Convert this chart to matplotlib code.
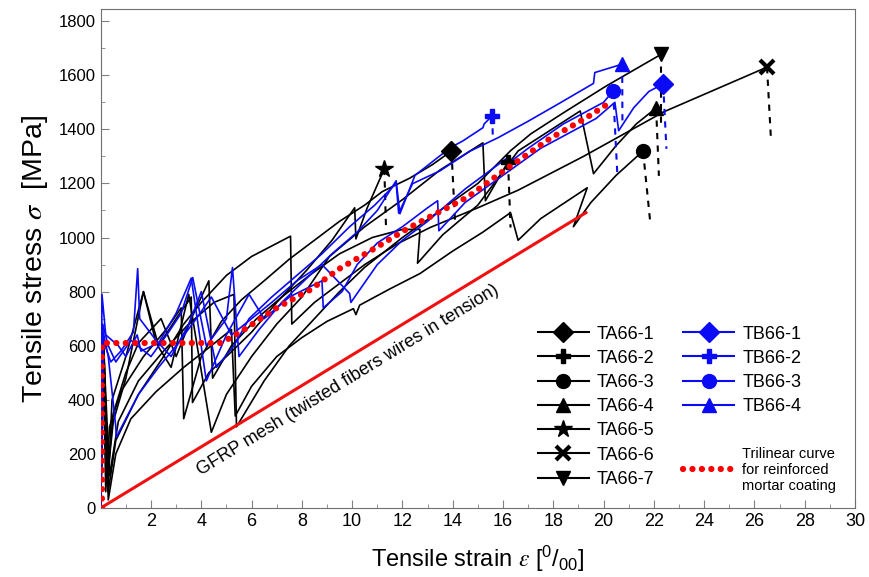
import matplotlib
matplotlib.use('Agg')
import matplotlib.pyplot as plt
from matplotlib.lines import Line2D

plt.rcParams['font.family'] = ['Liberation Sans', 'DejaVu Sans']
plt.rcParams['mathtext.fontset'] = 'stix'

# strain [per mille] / stress [MPa] records of the TA66 specimens
ta_names = ['TA66-1', 'TA66-2', 'TA66-3', 'TA66-4', 'TA66-5', 'TA66-6', 'TA66-7']
ta_markers = ['D', 'P', 'o', '^', '*', 'x', 'v']
ta_strain = [
    [0, 0.08, 0.2, 0.35, 0.8, 1.7, 2.6, 3.2, 3.3, 4.0, 4.8, 5.6, 6.5, 7.5, 8.5, 9.5, 10.5, 11.2, 12.3, 13.2, 13.95],
    [0, 0.1, 0.25, 0.5, 1.0, 1.7, 2.2, 2.8, 3.5, 4.4, 5.0, 6.0, 7.0, 8.0, 9.1, 10.5, 12.0, 13.5, 15.2, 15.3, 15.7, 16.2],
    [0, 0.12, 0.3, 0.6, 1.2, 2.2, 3.3, 4.4, 5.2, 5.35, 6.0, 7.0, 8.0, 9.0, 10.05, 10.15, 10.3, 11.5, 12.7, 14.0, 15.2, 16.3, 16.6, 17.5, 19.35, 18.8, 19.5, 20.5, 21.57],
    [0, 0.1, 0.3, 0.5, 1.0, 1.5, 2.4, 3.0, 3.6, 4.3, 4.45, 5.2, 6.2, 7.2, 8.3, 9.5, 10.8, 12.0, 12.7, 12.6, 13.6, 15.0, 16.6, 19.07, 19.6, 20.5, 21.3, 22.09],
    [0, 0.1, 0.3, 0.45, 1.0, 1.7, 2.3, 3.0, 3.6, 3.65, 4.3, 5.0, 6.0, 7.0, 8.2, 9.2, 10.1, 10.15, 10.6, 11.28],
    [0, 0.1, 0.3, 0.6, 1.5, 2.5, 3.3, 4.0, 5.0, 6.0, 7.55, 7.6, 8.5, 9.5, 10.5, 11.8, 13.1, 15.0, 16.6, 19.2, 22.4, 26.5],
    [0, 0.1, 0.35, 0.7, 1.5, 2.5, 3.5, 4.5, 5.3, 5.4, 6.5, 7.5, 8.5, 9.5, 10.5, 12.0, 13.5, 15.0, 16.3, 17.1, 18.4, 20.1, 22.3],
]
ta_stress = [
    [0, 640, 60, 300, 430, 560, 660, 740, 330, 560, 690, 770, 840, 920, 990, 1060, 1120, 1170, 1220, 1270, 1320],
    [0, 600, 100, 320, 480, 800, 610, 520, 790, 280, 420, 560, 680, 780, 930, 1040, 1140, 1250, 1350, 1136, 1200, 1280],
    [0, 620, 30, 200, 330, 430, 520, 600, 660, 340, 450, 560, 630, 690, 737, 715, 750, 810, 867, 950, 1020, 1092, 990, 1070, 1184, 1040, 1130, 1230, 1320],
    [0, 560, 150, 350, 500, 610, 700, 560, 700, 840, 480, 600, 700, 780, 860, 940, 1000, 1030, 1030, 905, 1010, 1120, 1320, 1468, 1236, 1340, 1420, 1479],
    [0, 650, 80, 400, 560, 800, 600, 700, 780, 390, 500, 560, 650, 760, 880, 990, 1110, 995, 1110, 1254],
    [0, 600, 60, 250, 420, 560, 680, 760, 860, 930, 1005, 680, 760, 830, 900, 977, 1037, 1110, 1175, 1300, 1465, 1630],
    [0, 620, 120, 320, 470, 580, 680, 760, 790, 300, 470, 600, 700, 800, 890, 1000, 1100, 1200, 1321, 1383, 1461, 1560, 1678],
]
# post-peak unloading branches (dashed)
ta_drop_strain = [[13.95, 14.1], [16.2, 16.3], [21.57, 21.85], [22.09, 22.2], [11.28, 11.35], [26.5, 26.65], [22.3, 22.3]]
ta_drop_stress = [[1320, 1045], [1280, 1037], [1320, 1062], [1479, 1228], [1254, 1025], [1630, 1376], [1678, 1420]]

# TB66 specimens
tb_names = ['TB66-1', 'TB66-2', 'TB66-3', 'TB66-4']
tb_markers = ['D', 'P', 'o', '^']
tb_strain = [
    [0, 0.05, 0.2, 0.7, 1.0, 1.45, 1.6, 2.3, 3.0, 3.6, 4.2, 5.0, 5.9, 6.5, 7.5, 8.8, 8.85, 9.6, 10.2, 11.0, 12.0, 13.0, 13.4, 13.45, 14.5, 16.3, 17.5, 19.7, 20.45, 20.6, 21.2, 21.8, 22.37],
    [0, 0.08, 0.3, 0.6, 1.2, 2.0, 2.7, 3.2, 3.66, 4.2, 5.0, 5.24, 5.5, 6.3, 7.2, 8.2, 9.2, 10.2, 11.0, 11.75, 11.9, 12.5, 13.9, 14.4, 15.2, 15.25, 15.57],
    [0, 0.1, 0.3, 0.6, 0.62, 1.5, 2.3, 3.0, 3.8, 4.4, 5.2, 6.0, 6.8, 7.8, 8.8, 9.9, 9.95, 11.0, 12.0, 13.0, 14.5, 16.1, 16.15, 17.0, 18.4, 20.0, 20.38],
    [0, 0.1, 0.4, 0.8, 1.3, 1.47, 1.55, 2.2, 2.8, 3.5, 4.0, 4.6, 5.3, 5.9, 6.8, 7.8, 8.8, 9.9, 10.9, 11.75, 11.85, 12.4, 13.5, 14.7, 15.8, 17.0, 18.2, 19.6, 19.65, 20.74],
]
tb_stress = [
    [0, 790, 640, 600, 560, 640, 580, 610, 720, 850, 470, 640, 790, 700, 780, 840, 740, 800, 900, 980, 1040, 1110, 1136, 1025, 1130, 1250, 1330, 1440, 1500, 1395, 1480, 1540, 1568],
    [0, 680, 600, 540, 620, 560, 650, 720, 852, 600, 700, 889, 560, 660, 760, 850, 940, 1020, 1100, 1210, 1088, 1230, 1332, 1357, 1406, 1420, 1450],
    [0, 650, 560, 300, 262, 420, 520, 600, 700, 780, 640, 700, 760, 840, 900, 793, 760, 900, 990, 1060, 1180, 1290, 1270, 1330, 1420, 1500, 1542],
    [0, 620, 540, 580, 650, 885, 700, 620, 560, 680, 800, 520, 600, 700, 780, 860, 940, 1040, 1120, 1200, 1090, 1199, 1247, 1320, 1369, 1430, 1494, 1570, 1610, 1641],
]
tb_drop_strain = [[22.37, 22.5], [15.57, 15.6], [20.38, 20.55], [20.74, 20.75]]
tb_drop_stress = [[1568, 1328], [1450, 1357], [1542, 1228], [1641, 1420]]

# trilinear model for the reinforced mortar coating
tri_strain = [0.05, 0.05, 4.8, 5.8, 7.0, 8.3, 9.5, 10.9, 12.2, 14.6, 16.2, 17.9, 19.3, 20.1]
tri_stress = [0, 610, 610, 665, 740, 805, 885, 960, 1033, 1150, 1258, 1368, 1442, 1490]

# bare GFRP mesh
mesh_strain = [0, 19.3]
mesh_stress = [0, 1092]

blue = '#0a0af5'
dots = (0, (0.01, 1.5))

fig = plt.figure(figsize=(8.69, 5.77), dpi=100)
ax = fig.add_axes([0.1159, 0.1196, 0.868, 0.8648])

handles = []
for i in range(len(ta_names)):
    ax.plot(ta_strain[i], ta_stress[i], color='black', lw=1.2, zorder=3)
    ax.plot(ta_drop_strain[i], ta_drop_stress[i], color='black', lw=1.5, ls=(0, (3, 3)), zorder=3)
    mew = 3 if ta_markers[i] == 'x' else 1
    ms = 13 if ta_markers[i] == '*' else 10
    ax.plot(ta_strain[i][-1], ta_stress[i][-1], marker=ta_markers[i], color='black',
            ms=ms, mew=mew, ls='none', zorder=5)
    handles.append(Line2D([], [], color='black', lw=1.5, marker=ta_markers[i],
                          ms=ms, mew=mew, label=ta_names[i]))

for i in range(len(tb_names)):
    ax.plot(tb_strain[i], tb_stress[i], color=blue, lw=1.2, zorder=3)
    ax.plot(tb_drop_strain[i], tb_drop_stress[i], color=blue, lw=1.5, ls=(0, (3, 3)), zorder=3)
    ax.plot(tb_strain[i][-1], tb_stress[i][-1], marker=tb_markers[i], color=blue,
            ms=10, ls='none', zorder=5)
    handles.append(Line2D([], [], color=blue, lw=1.5, marker=tb_markers[i],
                          ms=10, label=tb_names[i]))

ax.plot(mesh_strain, mesh_stress, color='#f01010', lw=2.2, zorder=4)
ax.plot(tri_strain, tri_stress, color='#ff0000', lw=4.5, ls=dots,
        dash_capstyle='round', zorder=6)

ax.text(4.0, 118, 'GFRP mesh (twisted fibers wires in tension)', rotation=31.5,
        rotation_mode='anchor', ha='left', va='baseline', fontsize=13, zorder=7)

blank = Line2D([], [], ls='none', label=' ')
tri_handle = Line2D([], [], color='#ff0000', lw=4.5, ls=dots, dash_capstyle='round',
                    label='Trilinear curve\nfor reinforced\nmortar coating')
leg = ax.legend(handles=handles + [blank, tri_handle], ncol=2,
                loc='lower right', bbox_to_anchor=(0.975, 0.03), frameon=False,
                fontsize=13, handlelength=2.8, handletextpad=0.45, columnspacing=1.6,
                labelspacing=0.4, borderaxespad=0, borderpad=0)
leg.get_texts()[-1].set_fontsize(10.5)

ax.set_xlim(0, 30)
ax.set_ylim(0, 1845)
ax.set_xticks(range(2, 31, 2))
ax.set_xticks(range(0, 31, 1), minor=True)
ax.set_yticks(range(0, 1801, 200))
ax.set_yticks(range(0, 1801, 100), minor=True)
ax.tick_params(which='both', direction='in', color='#808080')
ax.tick_params(which='major', length=6, labelsize=12)
ax.tick_params(which='minor', length=3)
for lab in ax.get_xticklabels():
    lab.set_family(['Liberation Sans Narrow', 'Liberation Sans'])
    lab.set_fontsize(13)
for sp in ax.spines.values():
    sp.set_color('#707070')

ax.set_xlabel(r'Tensile strain $\varepsilon$ [$\mathregular{^{0}/_{00}}$]', fontsize=17,
              family=['Liberation Sans Narrow', 'Liberation Sans'], labelpad=10)
ax.set_ylabel(r'Tensile stress $\sigma$  [MPa]', fontsize=20.5, labelpad=6)

fig.savefig('out.png', dpi=100)
